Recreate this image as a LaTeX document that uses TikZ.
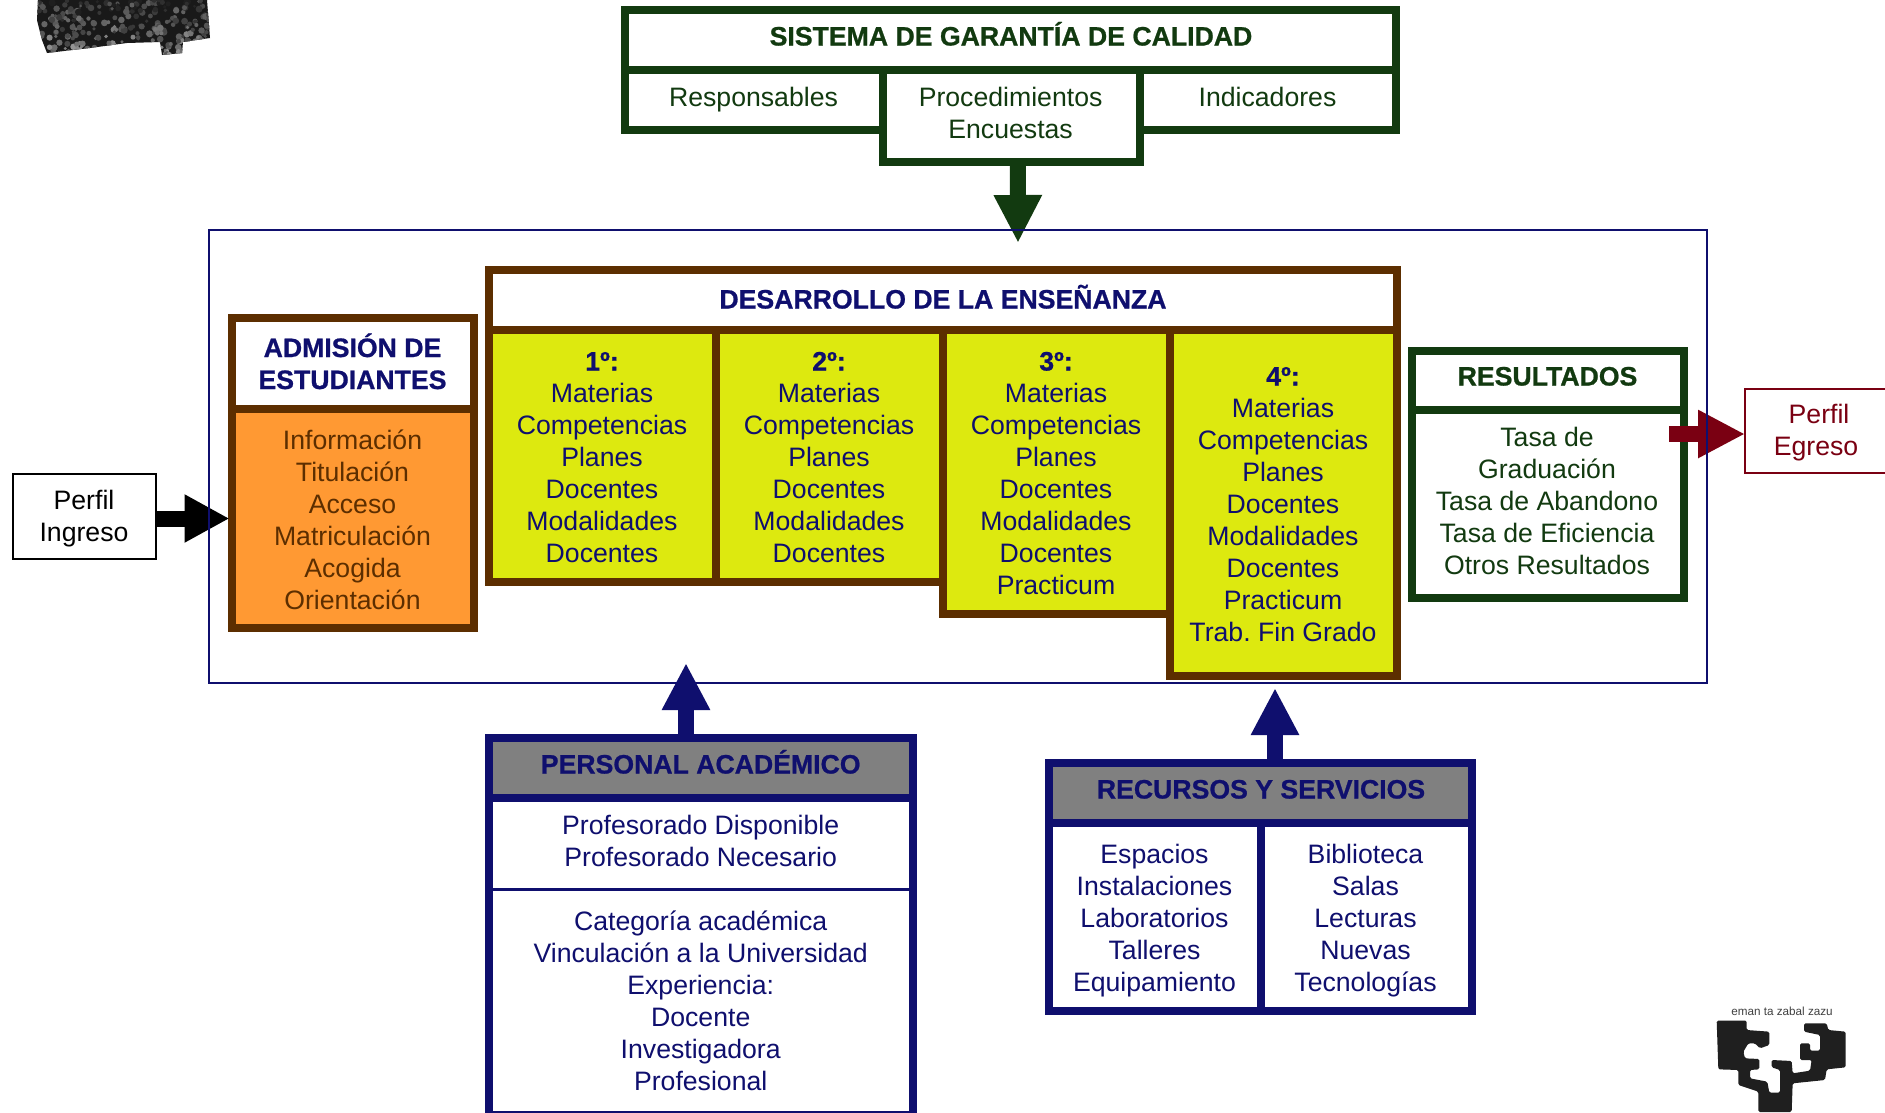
\documentclass[tikz,border=0pt]{standalone}
\usepackage{fontspec}
\setmainfont{Liberation Sans}
\newfontfamily\hb[UprightFont=* Bold,FakeBold=0.8]{Liberation Sans}
\usetikzlibrary{arrows.meta,calc}
\definecolor{cgreen}{HTML}{123A10}
\definecolor{cbrown}{HTML}{5C2E00}
\definecolor{cnavy}{HTML}{0F0F6E}
\definecolor{cyel}{HTML}{DDE90F}
\definecolor{corange}{HTML}{FF9933}
\definecolor{cred}{HTML}{7A0012}
\definecolor{cgray}{HTML}{808080}
\newcommand\st{\rule{0pt}{25.5pt}\rule[-6.5pt]{0pt}{6.5pt}}
% box given by the mid-line of its border: style, name, x1,y1,x2,y2
\newcommand\bx[6]{\node[#1,inner sep=0pt,minimum width={(#5)-(#3)},minimum height={(#6)-(#4)}] (#2) at ({((#3)+(#5))/2},{((#4)+(#6))/2}) {};}
% text block: style, name, x, y of block centre, lines
\newcommand\tx[5]{\node[txt,#1] (#2) at (#3,#4) {\st #5\st};}
\tikzset{
  txt/.style={inner sep=0pt,align=center,font={\fontsize{26.65}{32}\selectfont\frenchspacing}},
  hd/.style={font={\fontsize{26.65}{32}\selectfont\hb\frenchspacing}},
  gb/.style={draw=cgreen,line width=8pt,fill=white},
  bb/.style={draw=cbrown,line width=8pt,fill=white},
  by/.style={draw=cbrown,line width=8pt,fill=cyel},
  bo/.style={draw=cbrown,line width=8pt,fill=corange},
  nb/.style={draw=cnavy,line width=8pt,fill=white},
  ng/.style={draw=cnavy,line width=8pt,fill=cgray},
  tg/.style={text=cgreen},
  tn/.style={text=cnavy},
  tb/.style={text=cbrown},
}
\begin{document}
\begin{tikzpicture}[x=1pt,y=-1pt]
\useasboundingbox (0,0) rectangle (1885,1112);
\fill[white] (0,0) rectangle (1885,1112);
% scribble, top left
\begin{scope}
\clip (38,0) -- (207,0) -- (210,38) -- (183,42) -- (182,53) -- (162,55) -- (160,42) -- (127,43) -- (90,48) -- (47,53) -- (42,40) -- (37,20) -- cycle;
\fill[black!90] (30,0) rectangle (215,60);
\pgfmathsetseed{17}
\foreach \i in {1,...,340}{
  \pgfmathsetmacro{\px}{30+185*rnd}
  \pgfmathsetmacro{\py}{60*rnd}
  \pgfmathsetmacro{\pg}{min(88,max(38,50+30*rnd+(30-\py)*0.5))}
  \pgfmathsetmacro{\pr}{1.5+2*rnd}
  \fill[black!\pg!white] (\px,\py) circle[radius=\pr];
}
\end{scope}
% logo, bottom right
\begin{scope}[shift={(1680,980)},x=0.3333pt,y=-0.3333pt]
\fill[black!88,rounded corners=1.5pt] (110,122) -- (200,122) -- (200,150) -- (268,155) -- (268,195) -- (240,205) -- (225,190) -- (205,190) -- (190,215) -- (195,235) -- (238,237) -- (238,268) -- (210,270) -- (210,295) -- (262,305) -- (268,338) -- (300,338) -- (300,270) -- (275,262) -- (275,240) -- (335,243) -- (338,280) -- (390,272) -- (395,240) -- (360,240) -- (360,190) -- (390,190) -- (390,212) -- (420,212) -- (420,165) -- (372,155) -- (372,130) -- (440,130) -- (445,150) -- (497,155) -- (497,262) -- (440,268) -- (435,300) -- (338,310) -- (335,396) -- (235,396) -- (235,335) -- (175,315) -- (175,270) -- (115,268) -- cycle;
\end{scope}
\node[inner sep=0pt,text=black!75,font={\fontsize{11.7}{14}\selectfont}] (lema) at (1782,1011) {eman ta zabal zazu};
% Sistema de garantia
\bx{gb}{sg}{625}{10}{1396}{70}
\bx{gb}{sgl}{625}{70}{883}{130}
\bx{gb}{sgr}{1139.5}{70}{1396}{130}
\bx{gb}{sgc}{883}{70}{1139.5}{162}
\tx{tg,hd}{tsg}{1011}{36}{SISTEMA DE GARANTÍA DE CALIDAD}
\tx{tg}{tsgl}{753.5}{97}{Responsables}
\tx{tg}{tsgc}{1010.6}{112.5}{Procedimientos\\Encuestas}
\tx{tg}{tsgr}{1267.5}{97}{Indicadores}
% Perfil ingreso
\bx{draw=black,line width=2pt,fill=white}{pi}{13}{474}{156}{559}
\tx{text=black}{tpi}{84}{516}{Perfil\\Ingreso}
% Admision
\bx{bb}{ad}{232}{318}{474}{409}
\bx{bo}{adb}{232}{409}{474}{628}
\tx{tn,hd}{tad}{352.5}{363.5}{ADMISIÓN DE\\ESTUDIANTES}
\tx{tb}{tadb}{352.5}{520}{Información\\Titulación\\Acceso\\Matriculación\\Acogida\\Orientación}
% Desarrollo
\bx{bb}{de}{489}{270}{1397}{329.5}
\bx{by}{c1}{489}{329.5}{716}{582}
\bx{by}{c2}{716}{329.5}{942.7}{582}
\bx{by}{c3}{942.7}{329.5}{1170}{614}
\bx{by}{c4}{1170}{329.5}{1397}{676}
\tx{tn,hd}{tde}{943}{299}{DESARROLLO DE LA ENSEÑANZA}
\tx{tn}{tc1}{602}{457}{{\hb 1º:}\\Materias\\Competencias\\Planes\\Docentes\\Modalidades\\Docentes}
\tx{tn}{tc2}{829}{457}{{\hb 2º:}\\Materias\\Competencias\\Planes\\Docentes\\Modalidades\\Docentes}
\tx{tn}{tc3}{1056}{473}{{\hb 3º:}\\Materias\\Competencias\\Planes\\Docentes\\Modalidades\\Docentes\\Practicum}
\tx{tn}{tc4}{1283}{504}{{\hb 4º:}\\Materias\\Competencias\\Planes\\Docentes\\Modalidades\\Docentes\\Practicum\\Trab. Fin Grado}
% Resultados
\bx{gb}{re}{1412}{351}{1684}{410}
\bx{gb}{reb}{1412}{410}{1684}{598}
\tx{tg,hd}{tre}{1547.5}{376}{RESULTADOS}
\tx{tg}{treb}{1547}{501}{Tasa de\\Graduación\\Tasa de Abandono\\Tasa de Eficiencia\\Otros Resultados}
% Perfil egreso
\bx{draw=cred,line width=2pt,fill=white}{pe}{1745}{389}{1900}{473}
\tx{text=cred}{tpe}{1816}{430}{\hspace{6pt}Perfil\\Egreso}
% Personal academico
\bx{ng}{pa}{489}{738}{913}{798}
\bx{nb}{pab}{489}{798}{913}{1115}
\draw[cnavy,line width=3pt] ([yshift=-95pt]pab.north west) -- ([yshift=-95pt]pab.north east);
\tx{tn,hd}{tpa}{700.7}{764}{PERSONAL ACADÉMICO}
\tx{tn}{tpa1}{700.7}{841}{Profesorado Disponible\\Profesorado Necesario}
\tx{tn}{tpa2}{700.7}{1001}{Categoría académica\\Vinculación a la Universidad\\Experiencia:\\Docente\\Investigadora\\Profesional}
% Recursos
\bx{ng}{rs}{1049}{763}{1472}{823}
\bx{nb}{rsl}{1049}{823}{1260.5}{1011}
\bx{nb}{rsr}{1260.5}{823}{1472}{1011}
\tx{tn,hd}{trs}{1261}{789}{RECURSOS Y SERVICIOS}
\tx{tn}{trsl}{1154.5}{918}{Espacios\\Instalaciones\\Laboratorios\\Talleres\\Equipamiento}
\tx{tn}{trsr}{1365.5}{918}{Biblioteca\\Salas\\Lecturas\\Nuevas\\Tecnologías}
% arrows
\coordinate (tipsg) at (1018,243);
\coordinate (tippa) at (686,663);
\coordinate (tiprs) at (1275,688);
\coordinate (startre) at (1669,434);
\draw[cgreen,line width=16pt,-{Triangle[length=48pt,width=45pt]}] ([xshift=6.5pt]sgc.south) -- (tipsg);
\draw[black,line width=16pt,-{Triangle[length=45pt,width=45pt]}] ([yshift=-2pt]pi.east) -- ([xshift=1.5pt]adb.west);
\draw[cnavy,line width=16pt,-{Triangle[length=47pt,width=45pt]}] ([xshift=-15pt]pa.north) -- (tippa);
\draw[cnavy,line width=16pt,-{Triangle[length=47pt,width=45pt]}] ([xshift=14.5pt]rs.north) -- (tiprs);
\draw[cred,line width=16pt,-{Triangle[length=47pt,width=45pt]}] (startre) -- ([yshift=-3pt,xshift=1pt]pe.west);
% frame
\bx{draw=cnavy,line width=2pt}{frame}{209}{230}{1706.5}{683}
\end{tikzpicture}
\end{document}
